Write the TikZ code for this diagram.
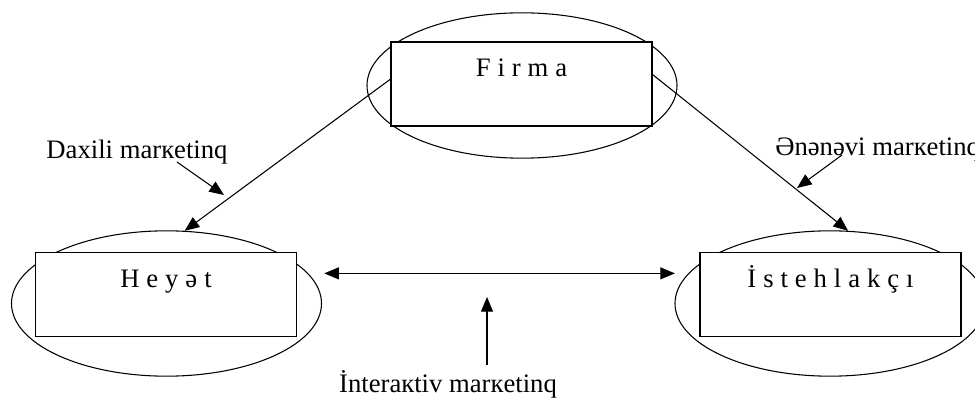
\documentclass[tikz,border=0pt]{standalone}
\usepackage{fontspec}
\setmainfont{Liberation Serif}
\usetikzlibrary{arrows.meta,shapes.geometric}
% letters of a box title, spread apart
\makeatletter
\newcommand\spreadword[1]{\@tfor\ch:=#1\do{\ch\kern0.26em}\unkern}
\makeatother

\begin{document}
\begin{tikzpicture}[
  x=0.75pt, y=-0.75pt,
  oval/.style={draw, ellipse, line width=0.8pt, inner sep=0pt,
    minimum width=232.5pt, minimum height=109pt},
  box/.style={draw, fill=white, line width=1.1pt, inner sep=0pt,
    minimum width=196pt, text height=26.25pt, text depth=36.75pt,
    font=\fontsize{20pt}{24pt}\selectfont},
  note/.style={inner sep=0pt, font=\fontsize{20pt}{24pt}\selectfont},
  arrow/.style={-{Triangle[length=11pt, width=9pt]}, line width=0.8pt},
  both/.style={{Triangle[length=11pt, width=9pt]}-{Triangle[length=11pt, width=9pt]}, line width=0.8pt},
]
\useasboundingbox (0,0) rectangle (975,399);

\node[oval] (firmaov) at (522,85.5) {};
\node[box] (firmabox) at (521.5,84) {\spreadword{Firma}};
\node[oval] (heyov) at (166.5,303.5) {};
\node[box] (heybox) at (166,294.5) {\spreadword{Heyət}};
\node[oval] (istov) at (830,303.5) {};
\node[box] (istbox) at (830.5,294.5) {\spreadword{İstehlakçı}};

\node[note, anchor=base] (daxili) at (137,159) {Daxili marкetinq};
\node[note, anchor=base west] (ananavi) at (775,156) {Ənənəvi marкetinq};
\node[note, anchor=base] (interaktiv) at (448,392) {İnteraкtiv marкetinq};

\coordinate (dxtail) at (177,162);
\coordinate (dxtip) at (224,195);
\coordinate (antail) at (842,155);
\coordinate (antip) at (797,188);
\coordinate (intfoot) at (487,365);
\coordinate (inttip) at (487,297);

\draw[arrow] (firmabox.178) -- (heyov.76);
\draw[arrow] (firmabox.4) -- (istov.76);
\draw[both, shorten <=12pt, shorten >=10pt] (heyov.12) -- (istov.168);
\draw[arrow] (dxtail) -- (dxtip);
\draw[arrow] (antail) -- (antip);
\draw[arrow] (intfoot) -- (inttip);
\end{tikzpicture}
\end{document}
